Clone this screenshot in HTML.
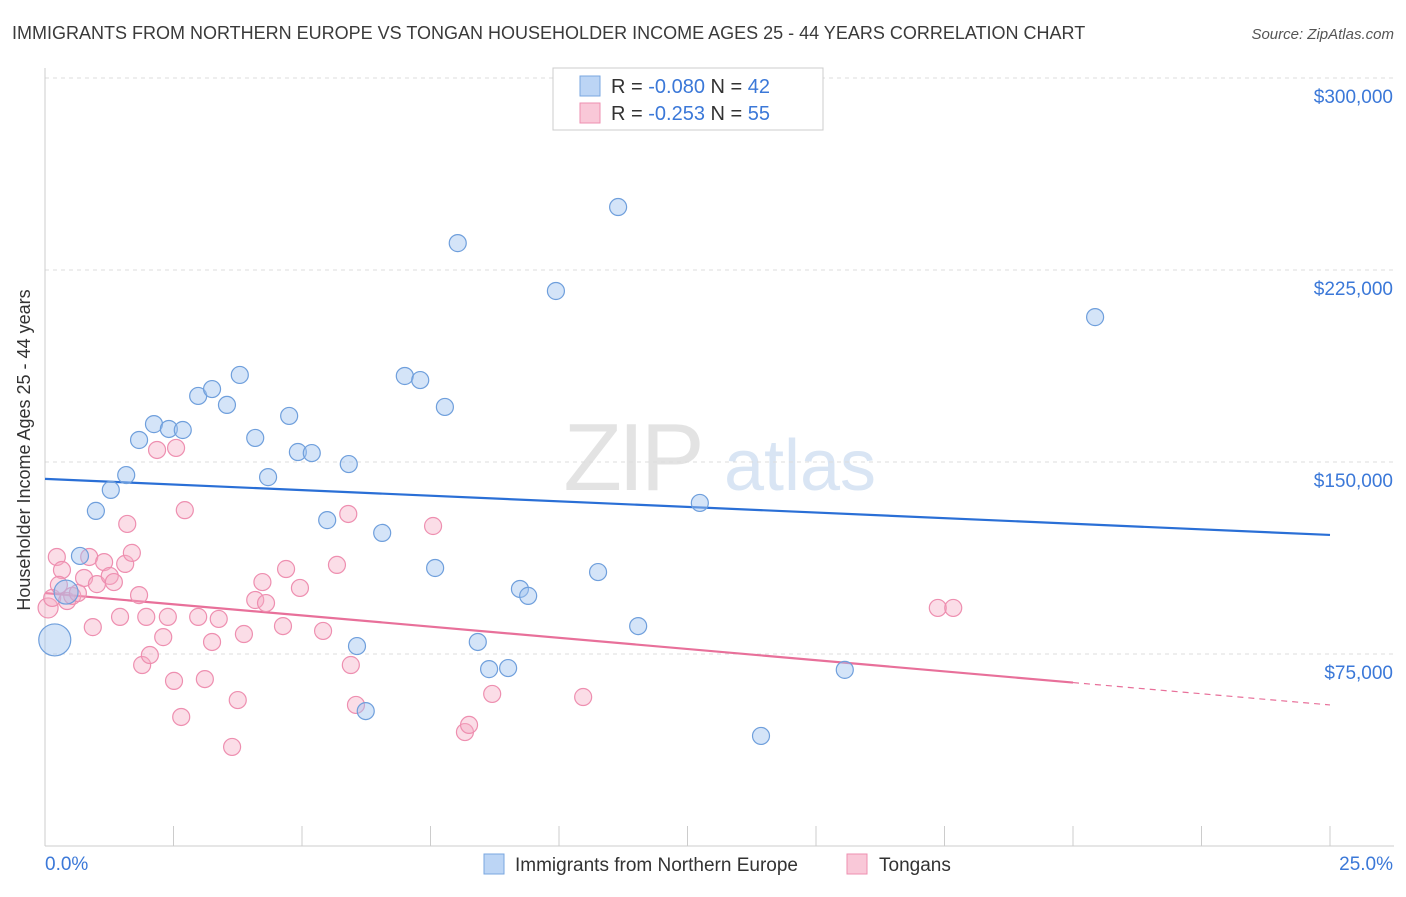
<!DOCTYPE html>
<html><head><meta charset="utf-8"><style>
body{margin:0;background:#fff;font-family:"Liberation Sans",sans-serif;}
svg text{font-family:"Liberation Sans",sans-serif;}
</style></head><body>
<svg id="c" width="1406" height="892" viewBox="0 0 1406 892">
<text x="12" y="39" font-size="18" fill="#3a3a3a">IMMIGRANTS FROM NORTHERN EUROPE VS TONGAN HOUSEHOLDER INCOME AGES 25 - 44 YEARS CORRELATION CHART</text>
<text x="1394" y="39" font-size="15" fill="#555" text-anchor="end" font-style="italic">Source: ZipAtlas.com</text>
<text x="36" y="456" font-size="18" fill="#333" text-anchor="middle" transform="rotate(-90 30 456)">Householder Income Ages 25 - 44 years</text>
<g opacity="0.5">
<text x="632" y="490" font-size="96" fill="#c8c8c8" text-anchor="middle" font-family="Liberation Serif" letter-spacing="-4">ZIP</text>
<text x="800" y="490" font-size="72" fill="#b4cdea" text-anchor="middle">atlas</text>
</g>
<g id="grid"></g><g id="axes"></g><g id="lines"></g><g id="pts"></g>
<g>
<rect x="553" y="68" width="270" height="62" fill="#fff" stroke="#ccc"/>
<rect x="580" y="76" width="20" height="20" fill="#bcd5f5" stroke="#7aa7e0"/>
<rect x="580" y="103" width="20" height="20" fill="#f9c8d8" stroke="#ee8fb0"/>
<text x="611" y="93" font-size="20" fill="#333">R = <tspan fill="#3b78d8">-0.080</tspan>   N = <tspan fill="#3b78d8">42</tspan></text>
<text x="611" y="120" font-size="20" fill="#333">R =  <tspan fill="#3b78d8">-0.253</tspan>   N = <tspan fill="#3b78d8">55</tspan></text>
</g>
<g>
<rect x="484" y="854" width="20" height="20" fill="#bcd5f5" stroke="#7aa7e0"/>
<text x="515" y="871" font-size="19" fill="#333">Immigrants from Northern Europe</text>
<rect x="847" y="854" width="20" height="20" fill="#f9c8d8" stroke="#ee8fb0"/>
<text x="879" y="871" font-size="19" fill="#333">Tongans</text>
</g>
</svg>
<script>
const yTicks=[75000,150000,225000,300000];
const yTickLabels=["$75,000","$150,000","$225,000","$300,000"];
const xTickLabels=["0.0%","25.0%"];
const blueX=[0.19,0.41,0.68,0.99,1.28,1.58,1.83,2.12,2.41,2.68,2.98,3.25,3.54,3.79,4.09,4.34,4.75,4.92,5.19,5.49,5.91,6.07,6.24,6.56,7.00,7.30,7.59,7.78,8.03,8.42,8.64,9.01,9.24,9.40,9.94,10.76,11.15,11.54,12.74,13.93,15.56,20.43];
const blueY=[80500,99200,113300,130900,139100,144900,158600,164800,162900,162500,175800,178500,172300,184000,159400,144100,168000,153900,153500,127300,149200,78100,52700,122300,183600,182000,108600,171500,235500,79700,69100,69500,100400,97700,216800,107000,249600,85900,134000,43000,68800,206600];
const pinkX=[0.06,0.14,0.23,0.33,0.43,0.53,0.64,0.76,0.86,0.93,1.01,1.15,1.26,1.34,1.46,1.56,1.60,1.69,1.83,1.89,1.97,2.04,2.18,2.30,2.39,2.51,2.55,2.65,2.72,2.98,3.11,3.25,3.38,3.64,3.75,3.87,4.09,4.23,4.30,4.63,4.69,4.96,5.41,5.68,5.90,5.95,6.05,7.55,8.17,8.25,8.70,10.47,17.37,17.67,0.27];
const pinkY=[93000,96900,112900,107800,95700,97700,98800,104700,112900,85500,102300,110900,105500,103100,89500,110200,125800,114500,98000,70700,89500,74600,154700,81600,89500,64500,155500,50400,131200,89500,65200,79700,88700,38700,57000,82800,96100,103100,94900,85900,108200,100800,84000,109800,129700,70700,55100,125000,44500,47300,59400,58200,93000,93000,102000];
const blueFit=[143400,121500];
const pinkFit=[98800,55100];
const pinkSolidEnd=20;
const NS="http://www.w3.org/2000/svg";
const X0=45,X1=1330,Y0=846,YT=78;
function sx(p){return X0+(X1-X0)*p/25;}
function sy(v){return Y0-(Y0-YT)*v/300000;}
function mk(t,a,parent){const e=document.createElementNS(NS,t);for(const k in a)e.setAttribute(k,a[k]);parent.appendChild(e);return e;}
const grid=document.getElementById('grid'),axes=document.getElementById('axes'),lines=document.getElementById('lines'),pts=document.getElementById('pts');
yTicks.forEach((v,i)=>{
 const l=mk('line',{x1:X0,x2:1394,y1:sy(v),y2:sy(v),stroke:'#ddd','stroke-dasharray':'4 4'},grid);
 
 
 const t=mk('text',{x:1393,y:sy(v)+25,'font-size':19,fill:'#3b78d8','text-anchor':'end'},axes);
 t.textContent=yTickLabels[i];
 
 
});
const ax=mk('line',{x1:X0,x2:X0,y1:68,y2:Y0,stroke:'#ccc'},axes);


const bx=mk('line',{x1:X0,x2:1394,y1:Y0,y2:Y0,stroke:'#ccc'},axes);


for(let i=1;i<=10;i++){
 const t=mk('line',{x1:sx(i*2.5),x2:sx(i*2.5),y1:826,y2:Y0,stroke:'#ccc'},axes);
 
 
}
const xl0=mk('text',{x:45,y:870,'font-size':19,fill:'#3b78d8'},axes);
xl0.textContent=xTickLabels[0];


const xl1=mk('text',{x:1393,y:870,'font-size':19,fill:'#3b78d8','text-anchor':'end'},axes);
xl1.textContent=xTickLabels[1];


const bl=mk('line',{x1:sx(0),y1:sy(blueFit[0]),x2:sx(25),y2:sy(blueFit[1]),stroke:'#2a6fd6','stroke-width':2.2},lines);


const pm=pinkFit[0]+(pinkFit[1]-pinkFit[0])*pinkSolidEnd/25;
const pl=mk('line',{x1:sx(0),y1:sy(pinkFit[0]),x2:sx(pinkSolidEnd),y2:sy(pm),stroke:'#e8709a','stroke-width':2.2},lines);


const pd=mk('line',{x1:sx(pinkSolidEnd),y1:sy(pm),x2:sx(25),y2:sy(pinkFit[1]),stroke:'#e8709a','stroke-width':1.2,'stroke-dasharray':'6 5'},lines);


pinkX.forEach((x,i)=>{
 const c=mk('circle',{cx:sx(x),cy:sy(pinkY[i]),r:i===0?10:8.5,fill:'rgba(245,170,195,0.4)',stroke:'#ee8fb0','stroke-width':1.2},pts);
 
 
});
blueX.forEach((x,i)=>{
 const c=mk('circle',{cx:sx(x),cy:sy(blueY[i]),r:i===0?16:(i===1?12:8.5),fill:'rgba(160,195,240,0.45)',stroke:'#6f9fdc','stroke-width':1.2},pts);
 
 
});
</script>
</body></html>
